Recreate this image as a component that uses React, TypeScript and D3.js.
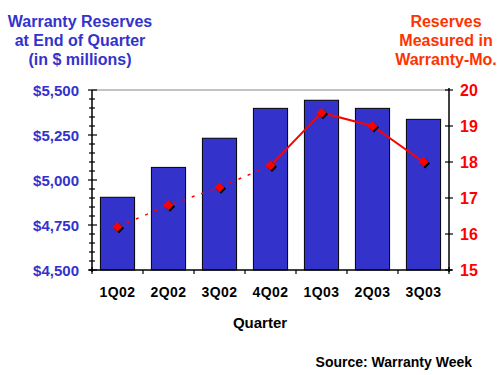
import React from "react";
import * as d3 from "d3";

const quarters = ["1Q02", "2Q02", "3Q02", "4Q02", "1Q03", "2Q03", "3Q03"];
const reserves = [4904, 5070, 5232, 5398, 5443, 5398, 5337];
const warrantyMonths = [16.2, 16.8, 17.3, 17.9, 19.37, 19.0, 18.0];
const leftTicks = [4500, 4750, 5000, 5250, 5500];
const rightTicks = [15, 16, 17, 18, 19, 20];

const W = 500, H = 375;
const M = { left: 92, right: 449, top: 90, bottom: 270 };
const FONT = "'Liberation Sans', Arial, sans-serif";
const BLUE = "#3333CC";
const RED = "#FF0000";
const ORANGE = "#FF3300";

export default function App() {
  const x = d3.scaleBand<string>().domain(quarters).range([M.left, M.right]).paddingInner(0.33).paddingOuter(0.165);
  const xb = d3.scaleBand<string>().domain(quarters).range([M.left, M.right]);
  const yL = d3.scaleLinear().domain([4500, 5500]).range([M.bottom, M.top]);
  const yR = d3.scaleLinear().domain([15, 20]).range([M.bottom, M.top]);
  const minor = d3.range(4500, 5501, 50);
  const pts = quarters.map((q, i) => [xb(q)! + xb.bandwidth() / 2, yR(warrantyMonths[i])] as [number, number]);
  const line = d3.line();
  const diamond = (cx: number, cy: number, r: number) => `M${cx},${cy - r}L${cx + r},${cy}L${cx},${cy + r}L${cx - r},${cy}Z`;
  const fmt = d3.format("$,");
  const boundaries = d3.range(quarters.length + 1).map((i) => M.left + i * xb.step());

  return (
    <svg width={W} height={H} style={{ position: "absolute", left: 0, top: 0, background: "#fff" }}>
      <g fontFamily={FONT} fontWeight="bold">
        <text x={80} y={27} fill={BLUE} fontSize={16} textAnchor="middle">Warranty Reserves</text>
        <text x={80} y={46} fill={BLUE} fontSize={16} textAnchor="middle">at End of Quarter</text>
        <text x={80} y={65} fill={BLUE} fontSize={16} textAnchor="middle">(in $ millions)</text>
        <text x={446} y={27} fill={ORANGE} fontSize={16} textAnchor="middle">Reserves</text>
        <text x={446} y={46} fill={ORANGE} fontSize={16} textAnchor="middle">Measured in</text>
        <text x={446} y={65} fill={ORANGE} fontSize={16} textAnchor="middle">Warranty-Mo.</text>
      </g>
      <line x1={M.left} x2={M.right} y1={M.top} y2={M.top} stroke="#888" strokeWidth={1} />
      {quarters.map((q, i) => (
        <rect key={q} x={x(q)!} y={yL(reserves[i])} width={x.bandwidth()} height={M.bottom - yL(reserves[i])}
          fill={BLUE} stroke="#000" strokeWidth={1} />
      ))}
      {/* left axis */}
      <line x1={M.left} x2={M.left} y1={M.top} y2={M.bottom + 2} stroke="#000" strokeWidth={1.5} />
      {minor.map((v) => (
        <line key={v} x1={M.left - (v % 250 === 0 ? 4 : 3)} x2={M.left + (v % 250 === 0 ? 5 : 3)} y1={yL(v)} y2={yL(v)} stroke="#000" strokeWidth={1.2} />
      ))}
      {leftTicks.map((v) => (
        <text key={v} x={79} y={yL(v) + 5.5} fill={BLUE} fontFamily={FONT} fontWeight="bold" fontSize={15} textAnchor="end">{fmt(v)}</text>
      ))}
      {/* right axis */}
      <line x1={M.right} x2={M.right} y1={M.top - 2} y2={M.bottom + 2} stroke="#000" strokeWidth={1.5} />
      {rightTicks.map((v) => (
        <g key={v}>
          <line x1={M.right - 4} x2={M.right + 4} y1={yR(v)} y2={yR(v)} stroke="#000" strokeWidth={1.2} />
          <text x={460} y={yR(v) + 6} fill={RED} fontFamily={FONT} fontWeight="bold" fontSize={16}>{v}</text>
        </g>
      ))}
      {/* bottom axis */}
      <line x1={M.left - 3} x2={M.right + 3} y1={M.bottom} y2={M.bottom} stroke="#000" strokeWidth={1.5} />
      {boundaries.map((b, i) => (
        <line key={i} x1={b} x2={b} y1={M.bottom - (i === 0 || i === quarters.length ? 3 : 0)} y2={M.bottom + 4} stroke="#000" strokeWidth={1.2} />
      ))}
      {quarters.map((q) => (
        <text key={q} x={xb(q)! + xb.bandwidth() / 2} y={297} fontFamily={FONT} fontWeight="bold" fontSize={14} letterSpacing={0.5} textAnchor="middle" fill="#000">{q}</text>
      ))}
      <text x={260} y={328} fontFamily={FONT} fontWeight="bold" fontSize={15} textAnchor="middle" fill="#000">Quarter</text>
      <text x={472} y={367} fontFamily={FONT} fontWeight="bold" fontSize={14} textAnchor="end" fill="#000">Source: Warranty Week</text>
      {/* line series */}
      <path d={line(pts.slice(0, 4))!} fill="none" stroke={RED} strokeWidth={1.5} strokeDasharray="3,7" />
      <path d={line(pts.slice(3))!} fill="none" stroke={RED} strokeWidth={2} />
      {pts.map(([cx, cy], i) => (
        <g key={i}>
          <path d={diamond(cx + 1.5, cy + 1.5, 5)} fill="#000" />
          <path d={diamond(cx, cy, 5)} fill={RED} />
        </g>
      ))}
    </svg>
  );
}
